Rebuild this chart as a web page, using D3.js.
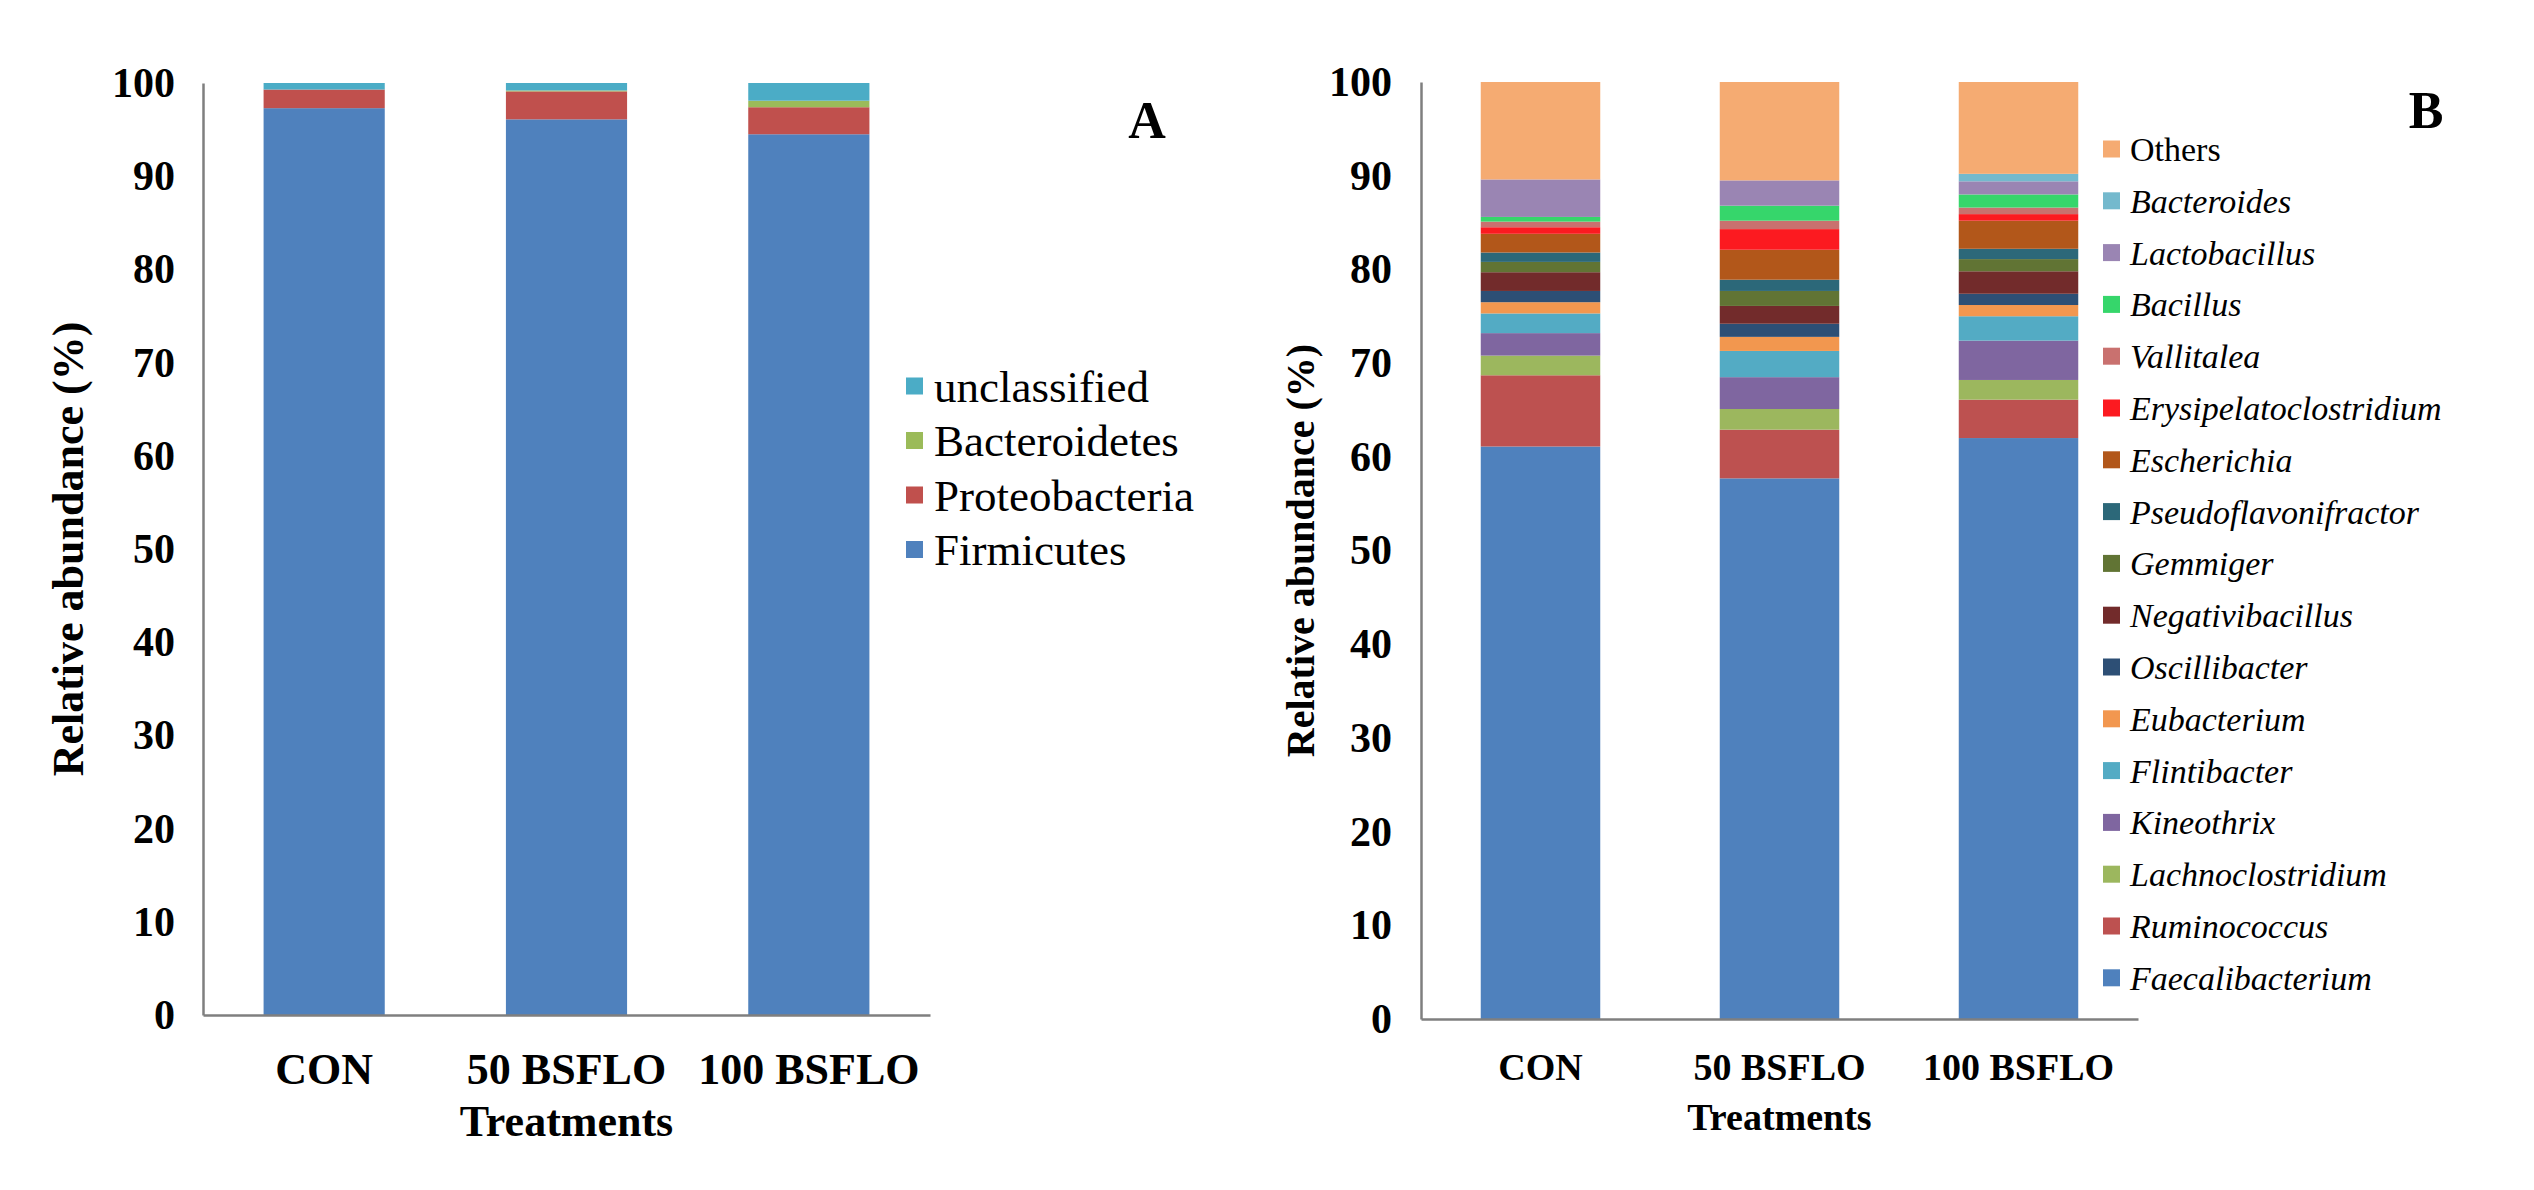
<!DOCTYPE html>
<html><head><meta charset="utf-8">
<script src="https://cdn.jsdelivr.net/npm/d3@7"></script>
<style>
html,body{margin:0;padding:0;background:#fff;}
svg{display:block;}
text{font-family:"Liberation Serif","Times New Roman",serif;fill:#000;}
</style></head>
<body>
<svg id="chart" width="2534" height="1190"></svg>
<script>
// ---------- DATA ----------
const categories = ["CON", "50 BSFLO", "100 BSFLO"];
const yTicks = [0, 10, 20, 30, 40, 50, 60, 70, 80, 90, 100];

// Panel A (phylum), bottom -> top
const phylumNames = ["Firmicutes", "Proteobacteria", "Bacteroidetes", "unclassified"];
const firmicutes     = [97.3, 96.1, 94.5];
const proteobacteria = [2.0, 3.0, 2.9];
const bacteroidetes  = [0.0, 0.1, 0.7];
const unclassified   = [0.7, 0.8, 1.9];
const phylumColors = ["#4F81BD", "#C0504D", "#9BBB59", "#4BACC6"];

// Panel B (genus), bottom -> top
const genusNames = ["Faecalibacterium", "Ruminococcus", "Lachnoclostridium", "Kineothrix",
  "Flintibacter", "Eubacterium", "Oscillibacter", "Negativibacillus", "Gemmiger",
  "Pseudoflavonifractor", "Escherichia", "Erysipelatoclostridium", "Vallitalea",
  "Bacillus", "Lactobacillus", "Bacteroides", "Others"];
const faecalibacterium       = [61.1, 57.7, 62.0];
const ruminococcus           = [7.6, 5.2, 4.1];
const lachnoclostridium      = [2.1, 2.2, 2.1];
const kineothrix             = [2.4, 3.4, 4.2];
const flintibacter           = [2.1, 2.8, 2.6];
const eubacterium            = [1.2, 1.5, 1.2];
const oscillibacter          = [1.2, 1.4, 1.2];
const negativibacillus       = [2.0, 1.9, 2.4];
const gemmiger               = [1.1, 1.6, 1.3];
const pseudoflavonifractor   = [1.0, 1.2, 1.1];
const escherichia            = [2.0, 3.2, 3.0];
const erysipelatoclostridium = [0.7, 2.2, 0.7];
const vallitalea             = [0.6, 0.9, 0.7];
const bacillus               = [0.5, 1.6, 1.4];
const lactobacillus          = [4.0, 2.7, 1.4];
const bacteroides            = [0.0, 0.0, 0.8];
const others                 = [10.4, 10.5, 9.8];
const genusColors = ["#4F81BD", "#BD5150", "#9CB75E", "#7F66A0", "#53ABC4", "#F2974F",
  "#2D4F75", "#722B2B", "#617434", "#2C6879", "#B2571A", "#FC1A20", "#C9716F",
  "#36D66B", "#9A85B3", "#74B9CD", "#F5AB72"];

// ---------- BUILD TABLES ----------
const phylumSeries = [firmicutes, proteobacteria, bacteroidetes, unclassified];
const genusSeries = [faecalibacterium, ruminococcus, lachnoclostridium, kineothrix, flintibacter,
  eubacterium, oscillibacter, negativibacillus, gemmiger, pseudoflavonifractor, escherichia,
  erysipelatoclostridium, vallitalea, bacillus, lactobacillus, bacteroides, others];

function table(names, series) {
  return categories.map((c, i) => {
    const row = {cat: c};
    names.forEach((n, k) => row[n] = series[k][i]);
    return row;
  });
}

const FONT = '"Liberation Serif","Times New Roman",serif';
const svg = d3.select("#chart");
svg.append("rect").attr("width", 2534).attr("height", 1190).attr("fill", "#fff");

function panel(cfg) {
  const g = svg.append("g");
  const x = d3.scaleBand().domain(categories).range([cfg.x0, cfg.x1])
    .paddingInner(0.5).paddingOuter(0.25);
  const y = d3.scaleLinear().domain([0, 100]).range([cfg.yBase, cfg.yTop]);
  const data = table(cfg.names, cfg.series);
  const stack = d3.stack().keys(cfg.names)(data);

  g.selectAll("g.layer").data(stack).join("g").attr("class", "layer")
    .attr("fill", (d, i) => cfg.colors[i])
    .selectAll("rect").data(d => d).join("rect")
    .attr("x", d => x(d.data.cat))
    .attr("width", x.bandwidth())
    .attr("y", d => y(d[1]))
    .attr("height", d => Math.max(0, y(d[0]) - y(d[1])));

  // y axis
  const ya = g.append("g").attr("transform", `translate(${cfg.x0},0)`)
    .call(d3.axisLeft(y).tickValues(yTicks).tickSize(0).tickSizeOuter(0).tickPadding(cfg.tickPad));
  ya.select(".domain").attr("stroke", "#7f7f7f").attr("stroke-width", 2.5);
  ya.selectAll("text").style("font-family", FONT).attr("font-weight", "bold")
    .attr("font-size", 42).attr("fill", "#000");

  // x axis
  const xa = g.append("g").attr("transform", `translate(0,${cfg.yBase})`)
    .call(d3.axisBottom(x).tickSize(0).tickSizeOuter(0).tickPadding(cfg.xLabPad));
  xa.select(".domain").attr("stroke", "#7f7f7f").attr("stroke-width", 2.5);
  xa.selectAll("text").style("font-family", FONT).attr("font-weight", "bold")
    .attr("font-size", cfg.xFont).attr("fill", "#000");

  // titles
  g.append("text").attr("x", (cfg.x0 + cfg.x1) / 2).attr("y", cfg.xTitleY)
    .style("font-family", FONT)
    .attr("text-anchor", "middle").attr("font-weight", "bold").attr("font-size", cfg.xFont)
    .text("Treatments");
  g.append("text").attr("transform", `translate(${cfg.yTitleX},${(cfg.yBase + cfg.yTop) / 2}) rotate(-90)`)
    .style("font-family", FONT)
    .attr("text-anchor", "middle").attr("dy", "0.35em").attr("font-weight", "bold")
    .attr("font-size", cfg.yTitleFont).text("Relative abundance (%)");
  g.append("text").attr("x", cfg.letterX).attr("y", cfg.letterY).attr("text-anchor", "middle")
    .style("font-family", FONT)
    .attr("font-weight", "bold").attr("font-size", 52).text(cfg.letter);

  // legend (top -> bottom is reverse of stack order)
  const items = cfg.names.map((n, i) => ({n, c: cfg.colors[i]})).reverse();
  const lg = g.append("g");
  items.forEach((it, i) => {
    const cy = cfg.legY0 + i * cfg.legStep;
    lg.append("rect").attr("x", cfg.legX).attr("y", cy - cfg.sw / 2)
      .attr("width", cfg.sw).attr("height", cfg.sw).attr("fill", it.c);
    lg.append("text").attr("x", cfg.legX + cfg.sw + cfg.legGap).attr("y", cy).attr("dy", "0.35em")
      .style("font-family", FONT)
      .attr("font-size", cfg.legFont)
      .attr("font-style", cfg.italic && it.n !== "Others" ? "italic" : "normal")
      .text(it.n);
  });
}

panel({
  names: phylumNames, series: phylumSeries, colors: phylumColors,
  x0: 203, x1: 930, yBase: 1015, yTop: 83, tickPad: 28, xLabPad: 38, xFont: 44,
  xTitleY: 1136, yTitleX: 68, yTitleFont: 44, letter: "A", letterX: 1147, letterY: 138,
  legX: 906, legY0: 386, legStep: 54.5, sw: 17, legGap: 11, legFont: 45, italic: false
});

panel({
  names: genusNames, series: genusSeries, colors: genusColors,
  x0: 1421, x1: 2138, yBase: 1019, yTop: 82, tickPad: 29, xLabPad: 34, xFont: 38,
  xTitleY: 1130, yTitleX: 1300, yTitleFont: 40, letter: "B", letterX: 2426, letterY: 128,
  legX: 2103, legY0: 149, legStep: 51.8, sw: 17, legGap: 10, legFont: 34, italic: true
});
</script>
</body></html>
